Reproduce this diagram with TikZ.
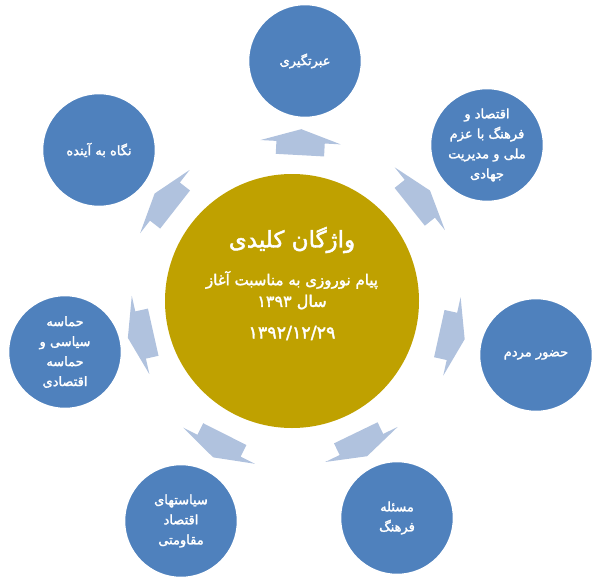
\documentclass[tikz,border=0pt]{standalone}
\usepackage{fontspec}
\usetikzlibrary{shapes.arrows}
\TeXXeTstate=1
\newfontfamily\fa[Script=Arabic, FakeBold=2]{DejaVu Sans}
\newcommand\rl[1]{\beginR #1\endR}
\definecolor{cblue}{HTML}{4F81BD}
\definecolor{cgold}{HTML}{BFA100}
\definecolor{carrow}{HTML}{B0C2DE}
\begin{document}
\begin{tikzpicture}[x=1pt,y=-1pt,
  outer/.style={circle, fill=cblue, draw=white, line width=1.5pt, minimum size=113pt, inner sep=0pt, text=white, align=center, font=\fa\fontsize{13}{20}\selectfont},
  hub/.style={circle, fill=cgold, minimum size=254pt, inner sep=0pt},
  ctext/.style={text=white, inner sep=0pt, font=\fa\fontsize{15}{22}\selectfont},
  flow/.style={single arrow, fill=carrow, draw=none, inner xsep=0pt, inner ysep=24pt, single arrow head extend=16pt, single arrow tip angle=144, minimum height=26pt, minimum width=0pt, sloped, allow upside down}
]
\useasboundingbox (0,0) rectangle (600,581);
\node[hub] (hub) at (292,301) {};
\node[ctext, font=\fa\fontsize{23}{26}\selectfont] (t1) at (292,240) {\rl{واژگان کلیدی}};
\node[ctext] (t2) at (292,280) {\rl{پیام نوروزی به مناسبت آغاز}};
\node[ctext, font=\fa\fontsize{16}{22}\selectfont] (t3) at (292,302) {\rl{سال \beginL۱۳۹۳\endL}};
\node[ctext, font=\fa\fontsize{17.5}{22}\selectfont] (t4) at (292,333) {\beginL۱۳۹۲/۱۲/۲۹\endL};

\node[outer] (o1) at (305,61) {\rl{عبرتگیری}};
\node[outer] (o2) at (487,145) {\rl{اقتصاد و}\\\rl{فرهنگ با عزم}\\\rl{ملی و مدیریت}\\\rl{جهادی}};
\node[outer] (o3) at (536,355) {\rl{حضور مردم}};
\node[outer] (o4) at (397,518) {\rl{مسئله}\\\rl{فرهنگ}};
\node[outer] (o5) at (181,521) {\rl{سیاستهای}\\\rl{اقتصاد}\\\rl{مقاومتی}};
\node[outer] (o6) at (65,352) {\rl{حماسه}\\\rl{سیاسی و}\\\rl{حماسه}\\\rl{اقتصادی}};
\node[outer] (o7) at (99,150) {\rl{نگاه به آینده}};

\foreach \o in {o1,o2,o3,o4,o5,o6,o7}
  \path (hub) -- (\o) node[flow, midway] {};
\end{tikzpicture}
\end{document}
